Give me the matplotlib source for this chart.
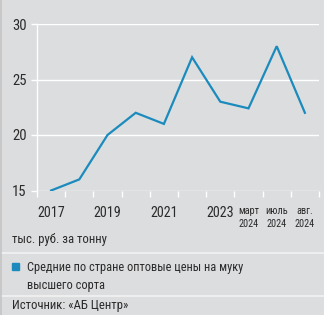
import matplotlib
matplotlib.use("Agg")
import matplotlib.pyplot as plt
from matplotlib.patches import Rectangle

# data
categories = ["2017", "2018", "2019", "2020", "2021", "2022", "2023",
              "март\n2024", "июль\n2024", "авг.\n2024"]
tick_labels = ["2017", "", "2019", "", "2021", "", "2023",
               "март\n2024", "июль\n2024", "авг.\n2024"]
prices = [15, 16, 20, 22, 21, 27, 23, 22.4, 28, 22]
y_ticks = [15, 20, 25, 30]

BG, LINE, TXT = "#dcdddf", "#1b8bbd", "#2b2b2b"
COND = ["Roboto Condensed", "PT Sans Narrow", "Roboto", "DejaVu Sans"]

fig = plt.figure(figsize=(3.24, 3.15), dpi=100, facecolor=BG)
ax = fig.add_axes([37 / 324, 1 - 190.5 / 315, 282 / 324, 166.5 / 315])
ax.set_facecolor(BG)

x = list(range(len(categories)))
ax.plot(x, prices, color=LINE, lw=1.6, solid_joinstyle="miter", zorder=3)

ax.set_xlim(-0.5, len(categories) - 0.5)
ax.set_ylim(15, 30)
ax.set_yticks(y_ticks)
ax.set_yticklabels([str(v) for v in y_ticks], family=COND, fontsize=10.5, color=TXT)
ax.tick_params(axis="y", length=4, width=1, color="white", pad=3.5)
for v in y_ticks:
    ax.axhline(v, color="white", lw=1, zorder=1)

ax.set_xticks(x)
ax.set_xticklabels(tick_labels, color=TXT, family=COND)
for lbl, t in zip(ax.get_xticklabels(), tick_labels):
    if "\n" in t:
        lbl.set_fontsize(7.4); lbl.set_linespacing(1.35)
        lbl.set_ha("center")
    else:
        lbl.set_fontsize(10.2)
ax.tick_params(axis="x", length=0, pad=11)
ax.set_xticks([i - 0.5 for i in range(len(categories) + 1)], minor=True)
ax.tick_params(axis="x", which="minor", length=4, width=1, color="white")

for s in ["top", "right", "bottom"]:
    ax.spines[s].set_visible(False)
ax.spines["left"].set_color("white")
ax.spines["left"].set_linewidth(1)

# footer texts
fig.text(12 / 324, 1 - 240 / 315, "тыс. руб. за тонну", family=COND,
         fontsize=9.2, color=TXT, va="center")
fig.add_artist(Rectangle((12 / 324, 1 - 270 / 315), 7 / 324, 7 / 315,
                         transform=fig.transFigure, color=LINE))
fig.text(27 / 324, 1 - 267 / 315, "Средние по стране оптовые цены на муку",
         family=COND, fontsize=8.9, color=TXT, va="center")
fig.text(27 / 324, 1 - 286 / 315, "высшего сорта", family=COND,
         fontsize=8.9, color=TXT, va="center")
fig.text(12 / 324, 1 - 306 / 315, "Источник: «АБ Центр»", family=COND,
         fontsize=9.2, color=TXT, va="center")
for yy in (253, 296):
    fig.add_artist(plt.Line2D([0, 1], [1 - yy / 315] * 2, color="#f2f2f2",
                              lw=1.2, transform=fig.transFigure))
fig.add_artist(plt.Line2D([0.5 / 324] * 2, [0, 1], color="#c4c4c4", lw=1.2,
                          transform=fig.transFigure))

fig.savefig("out.png", dpi=100, facecolor=BG)
